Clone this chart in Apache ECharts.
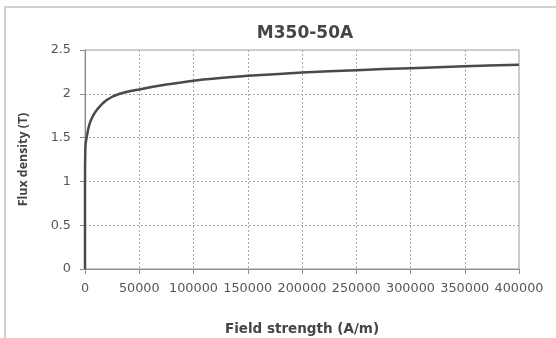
<!DOCTYPE html>
<html>
<head>
<meta charset="utf-8">
<script src="https://cdn.jsdelivr.net/npm/echarts@6/dist/echarts.min.js"></script>
<style>
  html, body { margin: 0; padding: 0; background: #ffffff; }
  #chart { width: 556px; height: 338px; }
</style>
</head>
<body>
<div id="chart"></div>
<script>
// B-H magnetisation curve of electrical steel M350-50A
const fieldStrength = [0, 0, 200, 600, 1500, 3000, 5500, 10800, 20000, 32000, 50000, 75000, 100000, 125000, 150000, 200000, 250000, 300000, 350000, 400000];
const fluxDensity   = [0, 1.0, 1.3, 1.43, 1.5, 1.6, 1.7, 1.815, 1.93, 2.0, 2.05, 2.105, 2.15, 2.18, 2.205, 2.242, 2.27, 2.293, 2.314, 2.332];

const xTickLabels = ['0', '50000', '100000', '150000', '200000', '250000', '300000', '350000', '400000'];
const yTickLabels = ['0', '0.5', '1', '1.5', '2', '2.5'];

const curve = fieldStrength.map((h, i) => [h, fluxDensity[i]]);

const chart = echarts.init(document.getElementById('chart'), null, { renderer: 'canvas' });

const gridLine = { show: true, showMinLine: false, showMaxLine: false, lineStyle: { color: '#a8a8a8', type: [2, 2], width: 1 } };

chart.setOption({
  animation: false,
  backgroundColor: '#ffffff',
  title: {
    text: 'M350-50A',
    left: 300,
    textAlign: 'center',
    top: 20,
    textStyle: { fontFamily: 'DejaVu Sans', fontWeight: 'bold', fontSize: 17, color: '#454545' }
  },
  graphic: [{
    type: 'rect',
    shape: { x: 5, y: 7, width: 700, height: 500 },
    style: { fill: null, stroke: '#d2d2d2', lineWidth: 2 },
    silent: true
  }],
  grid: {
    left: 85, right: 37, top: 50, bottom: 69,
    outerBoundsMode: 'none',
    show: true, borderColor: '#9a9a9a', borderWidth: 1, backgroundColor: 'transparent'
  },
  xAxis: {
    type: 'value',
    min: 0, max: 400000, interval: 50000,
    name: 'Field strength (A/m)',
    nameLocation: 'middle',
    nameGap: 53,
    nameTextStyle: { fontFamily: 'DejaVu Sans', fontWeight: 'bold', fontSize: 13.5, color: '#454545' },
    axisLine: { show: true, lineStyle: { color: '#8c8c8c', width: 1 } },
    axisTick: { show: true, length: 5, lineStyle: { color: '#8c8c8c' } },
    axisLabel: {
      margin: 13,
      fontFamily: 'DejaVu Sans', fontSize: 12.8, color: '#555555',
      formatter: v => xTickLabels[Math.round(v / 50000)]
    },
    splitLine: gridLine
  },
  yAxis: {
    type: 'value',
    min: 0, max: 2.5, interval: 0.5,
    name: 'Flux density (T)',
    nameLocation: 'middle',
    nameRotate: 90,
    nameGap: 56,
    nameTextStyle: { fontFamily: 'Open Sans', fontWeight: 'bold', fontSize: 12.4, color: '#454545' },
    axisLine: { show: true, lineStyle: { color: '#8c8c8c', width: 1 } },
    axisTick: { show: true, length: 5, lineStyle: { color: '#8c8c8c' } },
    axisLabel: {
      margin: 14,
      fontFamily: 'DejaVu Sans', fontSize: 12.8, color: '#555555',
      formatter: v => yTickLabels[Math.round(v / 0.5)]
    },
    splitLine: gridLine
  },
  series: [{
    type: 'line',
    data: curve,
    showSymbol: false,
    smooth: 0.3,
    lineStyle: { color: '#4a4a4a', width: 2.5 },
    z: 5
  }]
});
</script>
</body>
</html>
